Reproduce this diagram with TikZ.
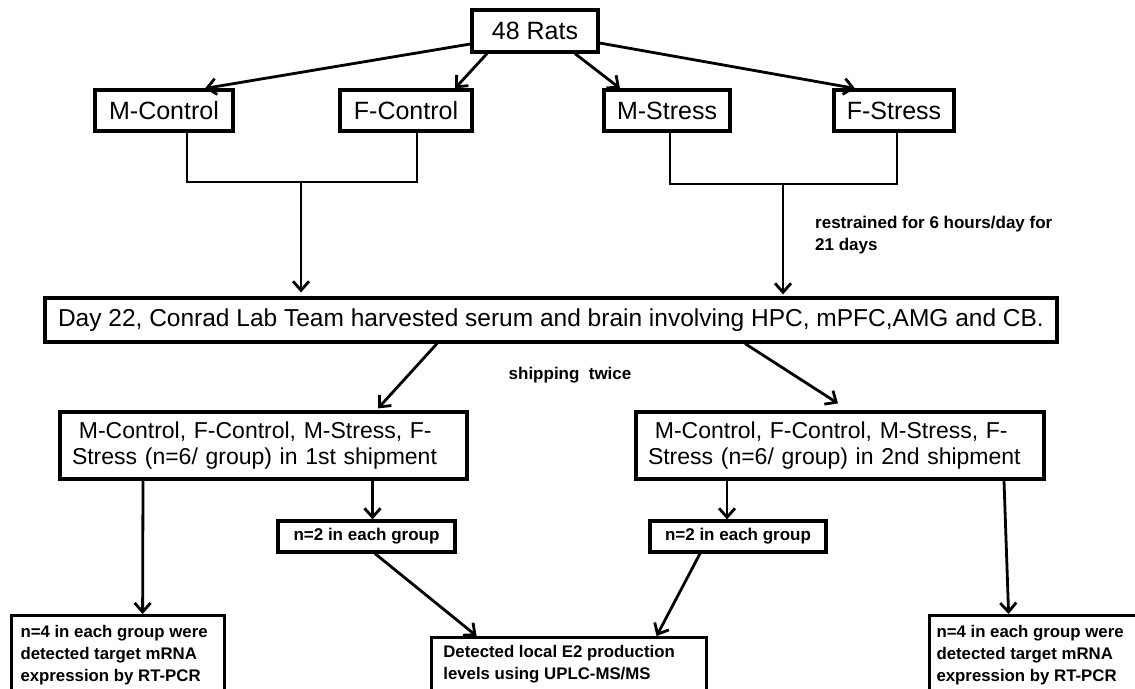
\documentclass[tikz,border=0pt]{standalone}
\usepackage{fontspec}
\setmainfont{Liberation Sans}
\usetikzlibrary{arrows.meta,calc}
\tikzset{
    group-box/.style = {draw, line width=3.2pt, rectangle, inner sep=0pt, minimum height=41pt, font=\fontsize{25}{30}\selectfont},
    wide-box/.style = {draw, line width=3.2pt, rectangle, inner xsep=12pt, inner ysep=0pt, align=left, font=\fontsize{23}{26}\selectfont},
    small-box/.style = {draw, line width=3.2pt, rectangle, inner sep=0pt, font=\fontsize{17}{22}\bfseries\selectfont},
    result-box/.style = {draw, line width=3.2pt, rectangle, anchor=north west, inner sep=0pt, align=left, font=\fontsize{16.8}{22}\bfseries\selectfont},
    note-text/.style = {inner sep=0pt, align=left, font=\fontsize{17}{22}\bfseries\selectfont},
    flow-arrow/.style = {line width=2.8pt, -{Straight Barb[length=9pt,width=16pt]}},
    flow-line/.style = {line width=2.8pt},
}

\begin{document}
\begin{tikzpicture}[x=1pt,y=-1pt]
\useasboundingbox (0,0) rectangle (1135,688);
\clip (0,0) rectangle (1135,688);

\node [group-box, minimum width=126pt, minimum height=42pt] (rats) at (535,31) {48 Rats};
\node [group-box, minimum width=138pt] (mcontrol) at (164,110.5) {M-Control};
\node [group-box, minimum width=132pt] (fcontrol) at (406,110.5) {F-Control};
\node [group-box, minimum width=126pt] (mstress) at (667,110.5) {M-Stress};
\node [group-box, minimum width=120pt] (fstress) at (894,110.5) {F-Stress};

\node [group-box, minimum width=1012pt, minimum height=44pt, font=\fontsize{24.5}{30}\selectfont] (day) at (551,320) {Day 22, Conrad Lab Team harvested serum and brain involving HPC, mPFC,AMG and CB.};

\node [wide-box, text width=383pt, minimum height=67pt] (first) at (263.5,445.5) {\hspace{0.3em}M-Control, F-Control, M-Stress, F-\\Stress (n=6/ group) in 1st shipment};
\node [wide-box, text width=384pt, minimum height=67pt] (second) at (840,445.5) {\hspace{0.3em}M-Control, F-Control, M-Stress, F-\\Stress (n=6/ group) in 2nd shipment};

\node [small-box, minimum width=177pt, minimum height=31pt] (n2left) at (366.5,536.5) {n=2 in each group};
\node [small-box, minimum width=176pt, minimum height=31pt] (n2right) at (738,536.5) {n=2 in each group};

\node [result-box, minimum width=213pt, minimum height=80pt] (pcrleft) at (10,614) {n=4 in each group were\hspace*{8pt}\\detected target mRNA\\expression by RT-PCR};
\node [result-box, minimum width=275pt, minimum height=54pt] (e2) at (430,636) {Detected local E2 production\hspace*{20pt}\\levels using UPLC-MS/MS};
\node [result-box, minimum width=216pt, minimum height=80pt] (pcrright) at (928,614) {n=4 in each group were\hspace*{15pt}\\detected target mRNA\\expression by RT-PCR};

\node [note-text, anchor=north west] (restrain) at (815,216) {restrained for 6 hours/day for\\21 days};
\node [note-text] (shipping) at (570,375) {shipping\hspace{0.55em}twice};

\coordinate (ctrl-join) at (301,182);
\coordinate (stress-join) at (783,184);

\draw [flow-arrow] ([yshift=-13pt]rats.west) -- ([xshift=41pt]mcontrol.north);
\draw [flow-arrow] ([xshift=-48pt]rats.south) -- ([xshift=49pt]fcontrol.north);
\draw [flow-arrow] ([xshift=40pt]rats.south) -- ([xshift=-47pt]mstress.north);
\draw [flow-arrow] ([yshift=-12pt]rats.east) -- ([xshift=-39pt]fstress.north);

\draw [flow-line] ($(mcontrol.south)+(23,0)$) |- (ctrl-join) -| ($(fcontrol.south)+(11,0)$);
\draw [flow-line] ($(mstress.south)+(3,0)$) |- (stress-join) -| ($(fstress.south)+(3,0)$);
\draw [flow-arrow, shorten >=4pt] (ctrl-join) -- (ctrl-join |- day.north);
\draw [flow-arrow, shorten >=2pt] (stress-join) -- (stress-join |- day.north);

\draw [flow-arrow] ([xshift=-114pt]day.south) -- ([xshift=114.5pt,yshift=2pt]first.north);
\draw [flow-arrow] ([xshift=194pt]day.south) -- ([xshift=-2pt,yshift=7pt]second.north);

\draw [flow-arrow] ([xshift=109pt]first.south) -- ([xshift=6pt]n2left.north);
\draw [flow-arrow] ([xshift=-113pt]second.south) -- ([xshift=-11pt]n2right.north);
\draw [flow-arrow] ([xshift=-120.5pt]first.south) -- ([xshift=24.5pt]pcrleft.north);
\draw [flow-arrow] ([xshift=164pt]second.south) -- ([xshift=-29pt]pcrright.north);

\draw [flow-arrow] ([xshift=8.5pt]n2left.south) -- ([xshift=-92.5pt]e2.north);
\draw [flow-arrow] ([xshift=-38pt]n2right.south) -- ([xshift=87.5pt]e2.north);
\end{tikzpicture}
\end{document}
